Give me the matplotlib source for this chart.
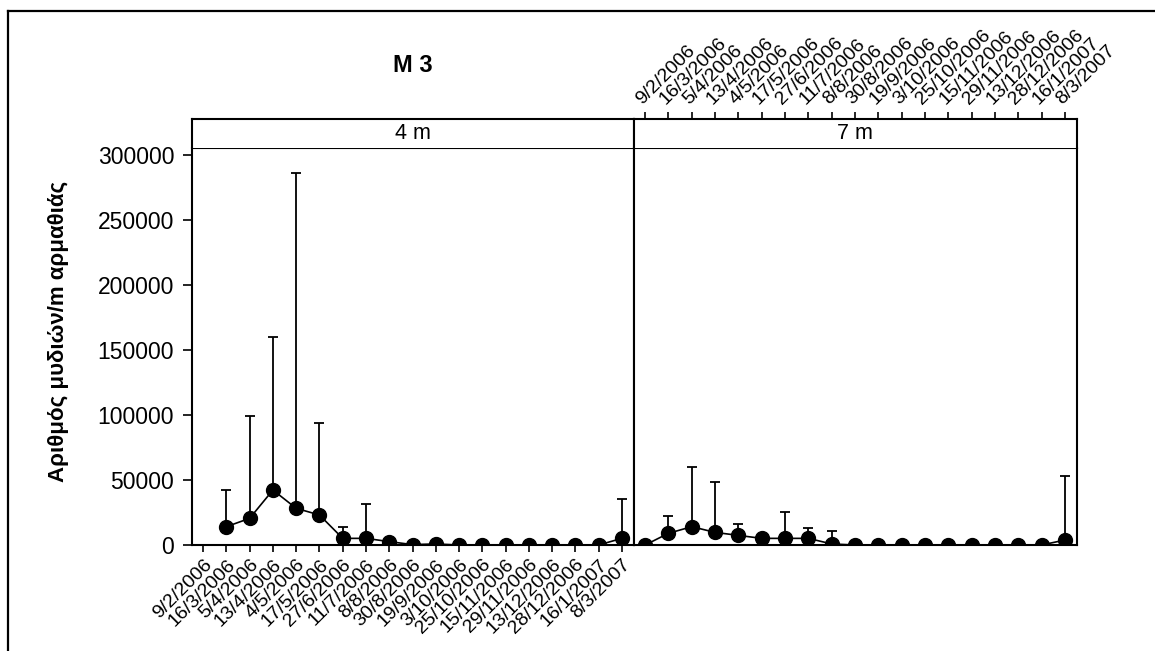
import numpy as np
import matplotlib
matplotlib.use('Agg')
import matplotlib.pyplot as plt
from matplotlib.lines import Line2D

plt.rcParams['font.family'] = ['Liberation Sans', 'DejaVu Sans']

# sampling dates (same for both depths)
dates = ['9/2/2006', '16/3/2006', '5/4/2006', '13/4/2006', '4/5/2006', '17/5/2006',
         '27/6/2006', '11/7/2006', '8/8/2006', '30/8/2006', '19/9/2006', '3/10/2006',
         '25/10/2006', '15/11/2006', '29/11/2006', '13/12/2006', '28/12/2006',
         '16/1/2007', '8/3/2007']

# mean mussels per m of rope and upper error (SD), 4 m depth
mean_4m = [np.nan, 14100, 20500, 42300, 28200, 23100, 5100, 5100, 2600, 300, 800,
           0, 0, 0, 0, 0, 0, 0, 5100]
sd_4m = [0, 28200, 78700, 117400, 257700, 71000, 8500, 26400, 0, 0, 0,
         0, 0, 0, 0, 0, 0, 0, 30300]

# 7 m depth
mean_7m = [0, 9000, 14100, 9700, 7400, 5100, 5100, 5100, 800, 0, 0,
           0, 0, 0, 0, 0, 0, 0, 3800]
sd_7m = [0, 13300, 45900, 38800, 8700, 0, 20000, 8200, 10200, 0, 0,
         0, 0, 0, 0, 0, 0, 0, 49300]

W, H = 1155, 651
fig = plt.figure(figsize=(W / 100, H / 100), dpi=100)


def frac(x0, y_top, x1, y_bot):
    return [x0 / W, 1 - y_bot / H, (x1 - x0) / W, (y_bot - y_top) / H]


x = np.arange(len(dates))
xlim = (-0.5, len(dates) - 0.5)

panels = [('4 m', mean_4m, sd_4m, 191.5, 633.5),
          ('7 m', mean_7m, sd_7m, 633.5, 1076.5)]

for i, (name, mean, sd, xa, xb) in enumerate(panels):
    ax = fig.add_axes(frac(xa, 148, xb, 545))
    strip = fig.add_axes(frac(xa, 119, xb, 148))

    lower = np.zeros(len(mean))
    ax.errorbar(x, mean, yerr=[lower, sd], fmt='-o', color='black', lw=1.2,
                ms=10, elinewidth=1.3, capsize=3.3, capthick=1.3)
    ax.set_xlim(xlim)
    ax.set_ylim(0, 305400)
    ax.set_xticks(x)
    for s in ax.spines.values():
        s.set_linewidth(1.5)
    ax.spines['top'].set_linewidth(0.8)

    strip.set_xlim(xlim)
    strip.set_ylim(0, 1)
    strip.set_yticks([])
    for s in strip.spines.values():
        s.set_linewidth(1.5)
    strip.spines['bottom'].set_visible(False)
    strip.text(0.5, 0.5, name, transform=strip.transAxes, ha='center',
               va='center', fontsize=15.5)

    if i == 0:
        ax.set_yticks(np.arange(0, 300001, 50000))
        ax.set_yticklabels([str(v) for v in range(0, 300001, 50000)])
        ax.tick_params(axis='y', direction='out', length=6.5, width=1.2,
                       pad=6, labelsize=16.5)
        ax.tick_params(axis='x', direction='out', length=5, width=1.2, pad=3)
        ax.set_xticklabels(dates, rotation=45, ha='right', va='top',
                           rotation_mode='anchor', fontsize=14)
        strip.set_xticks([])
    else:
        ax.set_yticks([])
        ax.tick_params(axis='x', bottom=False, labelbottom=False)
        strip.set_xticks(x)
        strip.tick_params(axis='x', top=True, labeltop=True, bottom=False,
                          labelbottom=False, direction='out', length=5,
                          width=1.2, pad=3)
        strip.set_xticklabels(dates, rotation=45, ha='left', va='bottom',
                              rotation_mode='anchor', fontsize=14)

fig.text(59 / W, 1 - 331.5 / H, 'Αριθμός μυδιών/m αρμαθιάς', rotation=90,
         ha='center', va='center', fontsize=16, fontweight='bold')
fig.text(413 / W, 1 - 66 / H, 'M 3', ha='center', va='center',
         fontsize=17, fontweight='bold')

# outer frame (left and top edges)
fig.add_artist(Line2D([7.5 / W, 7.5 / W], [0, 1 - 10.5 / H], color='black',
                      lw=1.6, transform=fig.transFigure))
fig.add_artist(Line2D([7.5 / W, 1], [1 - 10.5 / H, 1 - 10.5 / H], color='black',
                      lw=1.6, transform=fig.transFigure))

fig.savefig('out.png', dpi=100)
